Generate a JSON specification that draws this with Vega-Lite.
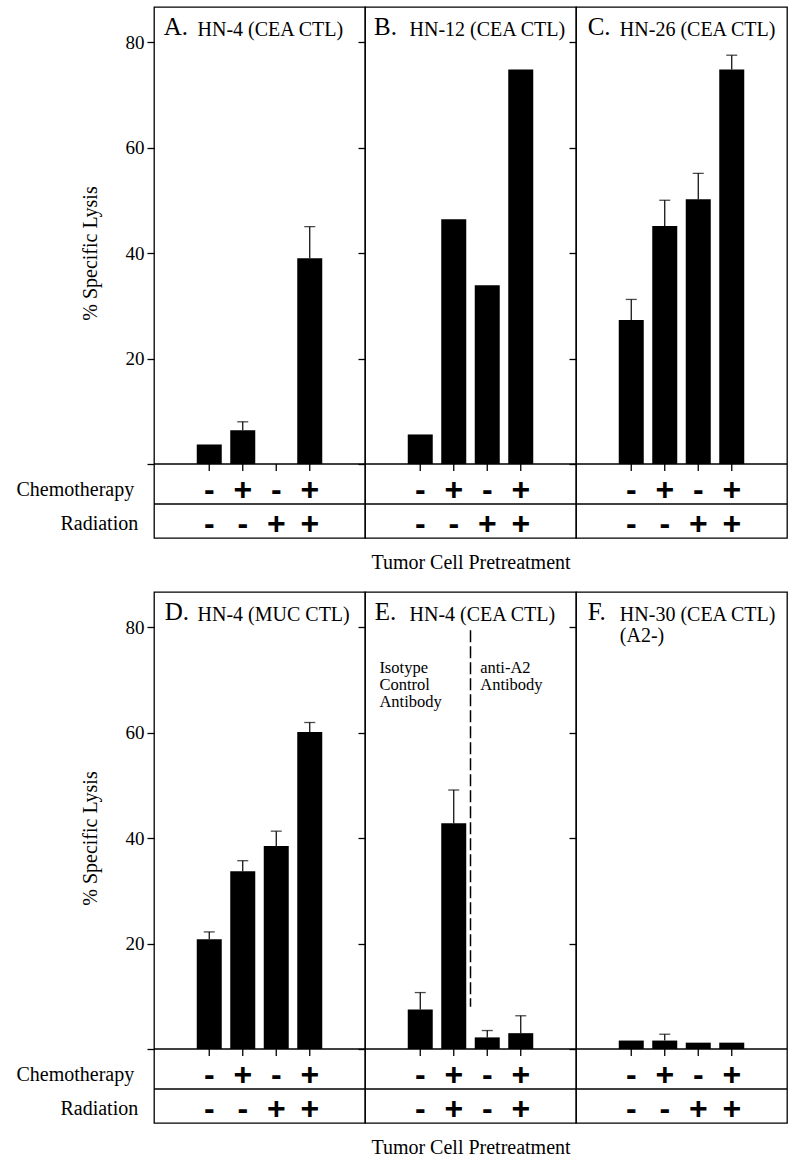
{
  "$schema": "https://vega.github.io/schema/vega-lite/v6.json",
  "padding": {"left": 15, "top": 6, "right": 5, "bottom": 5},
  "spacing": 18,
  "config": {
    "font": "Liberation Serif",
    "view": {"stroke": "black", "strokeWidth": 1.3},
    "axis": {"tickColor": "black", "tickWidth": 1.3, "labelColor": "black", "titleColor": "black", "labelFont": "Liberation Serif", "titleFont": "Liberation Serif", "grid": false, "domain": false},
    "axisX": {"ticks": false, "labels": false, "titleFontSize": 20, "titleFontWeight": "normal", "titlePadding": 14},
    "axisY": {"tickSize": 7, "labelFontSize": 19, "labelPadding": 3, "titleFontSize": 20, "titleFontWeight": "normal"},
    "text": {"color": "black", "font": "Liberation Serif"}
  },
  "datasets": {
    "a": [
      {"pos": 1, "value": 3.7, "err": null, "chemo": "-", "rad": "-"},
      {"pos": 2, "value": 6.4, "err": 8.0, "chemo": "+", "rad": "-"},
      {"pos": 3, "value": 0, "err": null, "chemo": "-", "rad": "+"},
      {"pos": 4, "value": 39.0, "err": 45.0, "chemo": "+", "rad": "+"}
    ],
    "b": [
      {"pos": 1, "value": 5.6, "err": null, "chemo": "-", "rad": "-"},
      {"pos": 2, "value": 46.4, "err": null, "chemo": "+", "rad": "-"},
      {"pos": 3, "value": 33.9, "err": null, "chemo": "-", "rad": "+"},
      {"pos": 4, "value": 74.8, "err": null, "chemo": "+", "rad": "+"}
    ],
    "c": [
      {"pos": 1, "value": 27.3, "err": 31.2, "chemo": "-", "rad": "-"},
      {"pos": 2, "value": 45.1, "err": 50.0, "chemo": "+", "rad": "-"},
      {"pos": 3, "value": 50.2, "err": 55.1, "chemo": "-", "rad": "+"},
      {"pos": 4, "value": 74.8, "err": 77.5, "chemo": "+", "rad": "+"}
    ],
    "d": [
      {"pos": 1, "value": 20.8, "err": 22.2, "chemo": "-", "rad": "-"},
      {"pos": 2, "value": 33.7, "err": 35.7, "chemo": "+", "rad": "-"},
      {"pos": 3, "value": 38.5, "err": 41.3, "chemo": "-", "rad": "+"},
      {"pos": 4, "value": 60.1, "err": 61.9, "chemo": "+", "rad": "+"}
    ],
    "e": [
      {"pos": 1, "value": 7.5, "err": 10.7, "chemo": "-", "rad": "-"},
      {"pos": 2, "value": 42.8, "err": 49.1, "chemo": "+", "rad": "+"},
      {"pos": 3, "value": 2.2, "err": 3.5, "chemo": "-", "rad": "-"},
      {"pos": 4, "value": 3.0, "err": 6.3, "chemo": "+", "rad": "+"}
    ],
    "f": [
      {"pos": 1, "value": 1.6, "err": null, "chemo": "-", "rad": "-"},
      {"pos": 2, "value": 1.6, "err": 2.8, "chemo": "+", "rad": "-"},
      {"pos": 3, "value": 1.2, "err": null, "chemo": "-", "rad": "+"},
      {"pos": 4, "value": 1.2, "err": null, "chemo": "+", "rad": "+"}
    ],
    "titles": [
      {"panel": "A", "letter": "A.", "name": "HN-4 (CEA CTL)"},
      {"panel": "B", "letter": "B.", "name": "HN-12 (CEA CTL)"},
      {"panel": "C", "letter": "C.", "name": "HN-26 (CEA CTL)"},
      {"panel": "D", "letter": "D.", "name": "HN-4 (MUC CTL)"},
      {"panel": "E", "letter": "E.", "name": "HN-4 (CEA CTL)"},
      {"panel": "F", "letter": "F.", "name": "HN-30 (CEA CTL)\n(A2-)"}
    ],
    "rows": [
      {"row": "Chemotherapy"},
      {"row": "Radiation"}
    ],
    "notes": [
      {"side": "left", "note": "Isotype\nControl\nAntibody"},
      {"side": "right", "note": "anti-A2\nAntibody"}
    ]
  },
  "vconcat": [
    {
      "hconcat": [
        {
          "width": 211, "height": 531,
          "layer": [
            {"data": {"name": "a"}, "mark": {"type": "bar", "size": 25, "color": "black"},
             "encoding": {
               "x": {"field": "pos", "type": "quantitative", "scale": {"domain": [-0.5, 5.5], "nice": false, "zero": false}, "axis": {"title": null}},
               "y": {"field": "value", "type": "quantitative", "scale": {"domain": [-14.03, 86.64], "nice": false, "zero": false},
                     "axis": {"values": [0, 20, 40, 60, 80], "title": "% Specific Lysis", "titleX": -64, "titleY": 246, "titleBaseline": "middle", "labelExpr": "datum.value === 0 ? '' : datum.label"}},
               "y2": {"datum": 0}}},
            {"data": {"name": "a"}, "transform": [{"filter": "isValid(datum.err)"}], "mark": {"type": "rule", "color": "black", "strokeWidth": 1.2},
             "encoding": {"x": {"field": "pos", "type": "quantitative"}, "y": {"field": "value", "type": "quantitative"}, "y2": {"field": "err"}}},
            {"data": {"name": "a"}, "transform": [{"filter": "isValid(datum.err)"}], "mark": {"type": "tick", "orient": "horizontal", "color": "black", "size": 11, "thickness": 1.3},
             "encoding": {"x": {"field": "pos", "type": "quantitative"}, "y": {"field": "err", "type": "quantitative"}}},
            {"data": {"name": "a"}, "mark": {"type": "rule", "color": "black", "strokeWidth": 1.3},
             "encoding": {"x": {"field": "pos", "type": "quantitative"}, "y": {"datum": 0}, "y2": {"datum": -1.35}}},
            {"data": {"name": "a"}, "mark": {"type": "text", "font": "Liberation Sans", "fontWeight": "bold", "fontSize": 32, "baseline": "alphabetic", "color": "black"},
             "encoding": {"x": {"field": "pos", "type": "quantitative"}, "y": {"datum": -6.9}, "text": {"field": "chemo"}}},
            {"data": {"name": "a"}, "mark": {"type": "text", "font": "Liberation Sans", "fontWeight": "bold", "fontSize": 32, "baseline": "alphabetic", "color": "black"},
             "encoding": {"x": {"field": "pos", "type": "quantitative"}, "y": {"datum": -13.35}, "text": {"field": "rad"}}},
            {"data": {"values": [{}]}, "mark": {"type": "rule", "color": "black", "strokeWidth": 1.3}, "encoding": {"y": {"datum": 0}}},
            {"data": {"values": [{}]}, "mark": {"type": "rule", "color": "black", "strokeWidth": 1.3}, "encoding": {"y": {"datum": -7.58}}},
            {"data": {"name": "titles"}, "transform": [{"filter": "datum.panel === 'A'"}], "mark": {"type": "text", "font": "Liberation Serif", "align": "left", "baseline": "alphabetic", "fontSize": 25},
             "encoding": {"x": {"datum": -0.36}, "y": {"datum": 81.4}, "text": {"field": "letter"}}},
            {"data": {"name": "titles"}, "transform": [{"filter": "datum.panel === 'A'"}], "mark": {"type": "text", "font": "Liberation Serif", "align": "left", "baseline": "alphabetic", "fontSize": 20, "lineBreak": "\n", "lineHeight": 20.5},
             "encoding": {"x": {"datum": 0.65}, "y": {"datum": 81.1}, "text": {"field": "name"}}},
            {"data": {"name": "rows"}, "transform": [{"filter": "datum.row === 'Chemotherapy'"}], "mark": {"type": "text", "font": "Liberation Serif", "align": "right", "baseline": "alphabetic", "fontSize": 20},
             "encoding": {"x": {"datum": -1.24}, "y": {"datum": -6.1}, "text": {"field": "row"}}},
            {"data": {"name": "rows"}, "transform": [{"filter": "datum.row === 'Radiation'"}], "mark": {"type": "text", "font": "Liberation Serif", "align": "right", "baseline": "alphabetic", "fontSize": 20},
             "encoding": {"x": {"datum": -1.12}, "y": {"datum": -12.6}, "text": {"field": "row"}}}
          ]
        },
        {
          "width": 211, "height": 531,
          "layer": [
            {"data": {"name": "b"}, "mark": {"type": "bar", "size": 25, "color": "black"},
             "encoding": {
               "x": {"field": "pos", "type": "quantitative", "scale": {"domain": [-0.5, 5.5], "nice": false, "zero": false}, "axis": {"title": "Tumor Cell Pretreatment"}},
               "y": {"field": "value", "type": "quantitative", "scale": {"domain": [-14.03, 86.64], "nice": false, "zero": false},
                     "axis": {"values": [0, 20, 40, 60, 80], "title": null, "labels": false}},
               "y2": {"datum": 0}}},
            {"data": {"name": "b"}, "mark": {"type": "rule", "color": "black", "strokeWidth": 1.3},
             "encoding": {"x": {"field": "pos", "type": "quantitative"}, "y": {"datum": 0}, "y2": {"datum": -1.35}}},
            {"data": {"name": "b"}, "mark": {"type": "text", "font": "Liberation Sans", "fontWeight": "bold", "fontSize": 32, "baseline": "alphabetic", "color": "black"},
             "encoding": {"x": {"field": "pos", "type": "quantitative"}, "y": {"datum": -6.9}, "text": {"field": "chemo"}}},
            {"data": {"name": "b"}, "mark": {"type": "text", "font": "Liberation Sans", "fontWeight": "bold", "fontSize": 32, "baseline": "alphabetic", "color": "black"},
             "encoding": {"x": {"field": "pos", "type": "quantitative"}, "y": {"datum": -13.35}, "text": {"field": "rad"}}},
            {"data": {"values": [{}]}, "mark": {"type": "rule", "color": "black", "strokeWidth": 1.3}, "encoding": {"y": {"datum": 0}}},
            {"data": {"values": [{}]}, "mark": {"type": "rule", "color": "black", "strokeWidth": 1.3}, "encoding": {"y": {"datum": -7.58}}},
            {"data": {"name": "titles"}, "transform": [{"filter": "datum.panel === 'B'"}], "mark": {"type": "text", "font": "Liberation Serif", "align": "left", "baseline": "alphabetic", "fontSize": 25},
             "encoding": {"x": {"datum": -0.38}, "y": {"datum": 81.4}, "text": {"field": "letter"}}},
            {"data": {"name": "titles"}, "transform": [{"filter": "datum.panel === 'B'"}], "mark": {"type": "text", "font": "Liberation Serif", "align": "left", "baseline": "alphabetic", "fontSize": 20, "lineBreak": "\n", "lineHeight": 20.5},
             "encoding": {"x": {"datum": 0.68}, "y": {"datum": 81.1}, "text": {"field": "name"}}}
          ]
        },
        {
          "width": 211, "height": 531,
          "layer": [
            {"data": {"name": "c"}, "mark": {"type": "bar", "size": 25, "color": "black"},
             "encoding": {
               "x": {"field": "pos", "type": "quantitative", "scale": {"domain": [-0.5, 5.5], "nice": false, "zero": false}, "axis": {"title": null}},
               "y": {"field": "value", "type": "quantitative", "scale": {"domain": [-14.03, 86.64], "nice": false, "zero": false},
                     "axis": {"values": [0, 20, 40, 60, 80], "title": null, "labels": false}},
               "y2": {"datum": 0}}},
            {"data": {"name": "c"}, "transform": [{"filter": "isValid(datum.err)"}], "mark": {"type": "rule", "color": "black", "strokeWidth": 1.2},
             "encoding": {"x": {"field": "pos", "type": "quantitative"}, "y": {"field": "value", "type": "quantitative"}, "y2": {"field": "err"}}},
            {"data": {"name": "c"}, "transform": [{"filter": "isValid(datum.err)"}], "mark": {"type": "tick", "orient": "horizontal", "color": "black", "size": 11, "thickness": 1.3},
             "encoding": {"x": {"field": "pos", "type": "quantitative"}, "y": {"field": "err", "type": "quantitative"}}},
            {"data": {"name": "c"}, "mark": {"type": "rule", "color": "black", "strokeWidth": 1.3},
             "encoding": {"x": {"field": "pos", "type": "quantitative"}, "y": {"datum": 0}, "y2": {"datum": -1.35}}},
            {"data": {"name": "c"}, "mark": {"type": "text", "font": "Liberation Sans", "fontWeight": "bold", "fontSize": 32, "baseline": "alphabetic", "color": "black"},
             "encoding": {"x": {"field": "pos", "type": "quantitative"}, "y": {"datum": -6.9}, "text": {"field": "chemo"}}},
            {"data": {"name": "c"}, "mark": {"type": "text", "font": "Liberation Sans", "fontWeight": "bold", "fontSize": 32, "baseline": "alphabetic", "color": "black"},
             "encoding": {"x": {"field": "pos", "type": "quantitative"}, "y": {"datum": -13.35}, "text": {"field": "rad"}}},
            {"data": {"values": [{}]}, "mark": {"type": "rule", "color": "black", "strokeWidth": 1.3}, "encoding": {"y": {"datum": 0}}},
            {"data": {"values": [{}]}, "mark": {"type": "rule", "color": "black", "strokeWidth": 1.3}, "encoding": {"y": {"datum": -7.58}}},
            {"data": {"name": "titles"}, "transform": [{"filter": "datum.panel === 'C'"}], "mark": {"type": "text", "font": "Liberation Serif", "align": "left", "baseline": "alphabetic", "fontSize": 25},
             "encoding": {"x": {"datum": -0.3}, "y": {"datum": 81.4}, "text": {"field": "letter"}}},
            {"data": {"name": "titles"}, "transform": [{"filter": "datum.panel === 'C'"}], "mark": {"type": "text", "font": "Liberation Serif", "align": "left", "baseline": "alphabetic", "fontSize": 20, "lineBreak": "\n", "lineHeight": 20.5},
             "encoding": {"x": {"datum": 0.66}, "y": {"datum": 81.1}, "text": {"field": "name"}}}
          ]
        }
      ],
      "spacing": 0,
      "bounds": "flush"
    },
    {
      "hconcat": [
        {
          "width": 211, "height": 531,
          "layer": [
            {"data": {"name": "d"}, "mark": {"type": "bar", "size": 25, "color": "black"},
             "encoding": {
               "x": {"field": "pos", "type": "quantitative", "scale": {"domain": [-0.5, 5.5], "nice": false, "zero": false}, "axis": {"title": null}},
               "y": {"field": "value", "type": "quantitative", "scale": {"domain": [-14.03, 86.64], "nice": false, "zero": false},
                     "axis": {"values": [0, 20, 40, 60, 80], "title": "% Specific Lysis", "titleX": -64, "titleY": 246, "titleBaseline": "middle", "labelExpr": "datum.value === 0 ? '' : datum.label"}},
               "y2": {"datum": 0}}},
            {"data": {"name": "d"}, "transform": [{"filter": "isValid(datum.err)"}], "mark": {"type": "rule", "color": "black", "strokeWidth": 1.2},
             "encoding": {"x": {"field": "pos", "type": "quantitative"}, "y": {"field": "value", "type": "quantitative"}, "y2": {"field": "err"}}},
            {"data": {"name": "d"}, "transform": [{"filter": "isValid(datum.err)"}], "mark": {"type": "tick", "orient": "horizontal", "color": "black", "size": 11, "thickness": 1.3},
             "encoding": {"x": {"field": "pos", "type": "quantitative"}, "y": {"field": "err", "type": "quantitative"}}},
            {"data": {"name": "d"}, "mark": {"type": "rule", "color": "black", "strokeWidth": 1.3},
             "encoding": {"x": {"field": "pos", "type": "quantitative"}, "y": {"datum": 0}, "y2": {"datum": -1.35}}},
            {"data": {"name": "d"}, "mark": {"type": "text", "font": "Liberation Sans", "fontWeight": "bold", "fontSize": 32, "baseline": "alphabetic", "color": "black"},
             "encoding": {"x": {"field": "pos", "type": "quantitative"}, "y": {"datum": -6.9}, "text": {"field": "chemo"}}},
            {"data": {"name": "d"}, "mark": {"type": "text", "font": "Liberation Sans", "fontWeight": "bold", "fontSize": 32, "baseline": "alphabetic", "color": "black"},
             "encoding": {"x": {"field": "pos", "type": "quantitative"}, "y": {"datum": -13.35}, "text": {"field": "rad"}}},
            {"data": {"values": [{}]}, "mark": {"type": "rule", "color": "black", "strokeWidth": 1.3}, "encoding": {"y": {"datum": 0}}},
            {"data": {"values": [{}]}, "mark": {"type": "rule", "color": "black", "strokeWidth": 1.3}, "encoding": {"y": {"datum": -7.58}}},
            {"data": {"name": "titles"}, "transform": [{"filter": "datum.panel === 'D'"}], "mark": {"type": "text", "font": "Liberation Serif", "align": "left", "baseline": "alphabetic", "fontSize": 25},
             "encoding": {"x": {"datum": -0.33}, "y": {"datum": 81.4}, "text": {"field": "letter"}}},
            {"data": {"name": "titles"}, "transform": [{"filter": "datum.panel === 'D'"}], "mark": {"type": "text", "font": "Liberation Serif", "align": "left", "baseline": "alphabetic", "fontSize": 20, "lineBreak": "\n", "lineHeight": 20.5},
             "encoding": {"x": {"datum": 0.65}, "y": {"datum": 81.1}, "text": {"field": "name"}}},
            {"data": {"name": "rows"}, "transform": [{"filter": "datum.row === 'Chemotherapy'"}], "mark": {"type": "text", "font": "Liberation Serif", "align": "right", "baseline": "alphabetic", "fontSize": 20},
             "encoding": {"x": {"datum": -1.24}, "y": {"datum": -6.0}, "text": {"field": "row"}}},
            {"data": {"name": "rows"}, "transform": [{"filter": "datum.row === 'Radiation'"}], "mark": {"type": "text", "font": "Liberation Serif", "align": "right", "baseline": "alphabetic", "fontSize": 20},
             "encoding": {"x": {"datum": -1.12}, "y": {"datum": -12.5}, "text": {"field": "row"}}}
          ]
        },
        {
          "width": 211, "height": 531,
          "layer": [
            {"data": {"name": "e"}, "mark": {"type": "bar", "size": 25, "color": "black"},
             "encoding": {
               "x": {"field": "pos", "type": "quantitative", "scale": {"domain": [-0.5, 5.5], "nice": false, "zero": false}, "axis": {"title": "Tumor Cell Pretreatment"}},
               "y": {"field": "value", "type": "quantitative", "scale": {"domain": [-14.03, 86.64], "nice": false, "zero": false},
                     "axis": {"values": [0, 20, 40, 60, 80], "title": null, "labels": false}},
               "y2": {"datum": 0}}},
            {"data": {"name": "e"}, "transform": [{"filter": "isValid(datum.err)"}], "mark": {"type": "rule", "color": "black", "strokeWidth": 1.2},
             "encoding": {"x": {"field": "pos", "type": "quantitative"}, "y": {"field": "value", "type": "quantitative"}, "y2": {"field": "err"}}},
            {"data": {"name": "e"}, "transform": [{"filter": "isValid(datum.err)"}], "mark": {"type": "tick", "orient": "horizontal", "color": "black", "size": 11, "thickness": 1.3},
             "encoding": {"x": {"field": "pos", "type": "quantitative"}, "y": {"field": "err", "type": "quantitative"}}},
            {"data": {"name": "e"}, "mark": {"type": "rule", "color": "black", "strokeWidth": 1.3},
             "encoding": {"x": {"field": "pos", "type": "quantitative"}, "y": {"datum": 0}, "y2": {"datum": -1.35}}},
            {"data": {"name": "e"}, "mark": {"type": "text", "font": "Liberation Sans", "fontWeight": "bold", "fontSize": 32, "baseline": "alphabetic", "color": "black"},
             "encoding": {"x": {"field": "pos", "type": "quantitative"}, "y": {"datum": -6.9}, "text": {"field": "chemo"}}},
            {"data": {"name": "e"}, "mark": {"type": "text", "font": "Liberation Sans", "fontWeight": "bold", "fontSize": 32, "baseline": "alphabetic", "color": "black"},
             "encoding": {"x": {"field": "pos", "type": "quantitative"}, "y": {"datum": -13.35}, "text": {"field": "rad"}}},
            {"data": {"values": [{}]}, "mark": {"type": "rule", "color": "black", "strokeWidth": 1.3}, "encoding": {"y": {"datum": 0}}},
            {"data": {"values": [{}]}, "mark": {"type": "rule", "color": "black", "strokeWidth": 1.3}, "encoding": {"y": {"datum": -7.58}}},
            {"data": {"values": [{}]}, "mark": {"type": "rule", "color": "black", "strokeWidth": 1.5, "strokeDash": [12, 4]},
             "encoding": {"x": {"datum": 2.5}, "y": {"datum": 79.4}, "y2": {"datum": 8.0}}},
            {"data": {"name": "notes"}, "transform": [{"filter": "datum.side === 'left'"}], "mark": {"type": "text", "font": "Liberation Serif", "align": "left", "baseline": "alphabetic", "fontSize": 16.5, "lineBreak": "\n", "lineHeight": 17},
             "encoding": {"x": {"datum": -0.22}, "y": {"datum": 71.2}, "text": {"field": "note"}}},
            {"data": {"name": "notes"}, "transform": [{"filter": "datum.side === 'right'"}], "mark": {"type": "text", "font": "Liberation Serif", "align": "left", "baseline": "alphabetic", "fontSize": 16.5, "lineBreak": "\n", "lineHeight": 17},
             "encoding": {"x": {"datum": 2.79}, "y": {"datum": 71.2}, "text": {"field": "note"}}},
            {"data": {"name": "titles"}, "transform": [{"filter": "datum.panel === 'E'"}], "mark": {"type": "text", "font": "Liberation Serif", "align": "left", "baseline": "alphabetic", "fontSize": 25},
             "encoding": {"x": {"datum": -0.36}, "y": {"datum": 81.4}, "text": {"field": "letter"}}},
            {"data": {"name": "titles"}, "transform": [{"filter": "datum.panel === 'E'"}], "mark": {"type": "text", "font": "Liberation Serif", "align": "left", "baseline": "alphabetic", "fontSize": 20, "lineBreak": "\n", "lineHeight": 20.5},
             "encoding": {"x": {"datum": 0.68}, "y": {"datum": 81.1}, "text": {"field": "name"}}}
          ]
        },
        {
          "width": 211, "height": 531,
          "layer": [
            {"data": {"name": "f"}, "mark": {"type": "bar", "size": 25, "color": "black"},
             "encoding": {
               "x": {"field": "pos", "type": "quantitative", "scale": {"domain": [-0.5, 5.5], "nice": false, "zero": false}, "axis": {"title": null}},
               "y": {"field": "value", "type": "quantitative", "scale": {"domain": [-14.03, 86.64], "nice": false, "zero": false},
                     "axis": {"values": [0, 20, 40, 60, 80], "title": null, "labels": false}},
               "y2": {"datum": 0}}},
            {"data": {"name": "f"}, "transform": [{"filter": "isValid(datum.err)"}], "mark": {"type": "rule", "color": "black", "strokeWidth": 1.2},
             "encoding": {"x": {"field": "pos", "type": "quantitative"}, "y": {"field": "value", "type": "quantitative"}, "y2": {"field": "err"}}},
            {"data": {"name": "f"}, "transform": [{"filter": "isValid(datum.err)"}], "mark": {"type": "tick", "orient": "horizontal", "color": "black", "size": 11, "thickness": 1.3},
             "encoding": {"x": {"field": "pos", "type": "quantitative"}, "y": {"field": "err", "type": "quantitative"}}},
            {"data": {"name": "f"}, "mark": {"type": "rule", "color": "black", "strokeWidth": 1.3},
             "encoding": {"x": {"field": "pos", "type": "quantitative"}, "y": {"datum": 0}, "y2": {"datum": -1.35}}},
            {"data": {"name": "f"}, "mark": {"type": "text", "font": "Liberation Sans", "fontWeight": "bold", "fontSize": 32, "baseline": "alphabetic", "color": "black"},
             "encoding": {"x": {"field": "pos", "type": "quantitative"}, "y": {"datum": -6.9}, "text": {"field": "chemo"}}},
            {"data": {"name": "f"}, "mark": {"type": "text", "font": "Liberation Sans", "fontWeight": "bold", "fontSize": 32, "baseline": "alphabetic", "color": "black"},
             "encoding": {"x": {"field": "pos", "type": "quantitative"}, "y": {"datum": -13.35}, "text": {"field": "rad"}}},
            {"data": {"values": [{}]}, "mark": {"type": "rule", "color": "black", "strokeWidth": 1.3}, "encoding": {"y": {"datum": 0}}},
            {"data": {"values": [{}]}, "mark": {"type": "rule", "color": "black", "strokeWidth": 1.3}, "encoding": {"y": {"datum": -7.58}}},
            {"data": {"name": "titles"}, "transform": [{"filter": "datum.panel === 'F'"}], "mark": {"type": "text", "font": "Liberation Serif", "align": "left", "baseline": "alphabetic", "fontSize": 25},
             "encoding": {"x": {"datum": -0.3}, "y": {"datum": 81.4}, "text": {"field": "letter"}}},
            {"data": {"name": "titles"}, "transform": [{"filter": "datum.panel === 'F'"}], "mark": {"type": "text", "font": "Liberation Serif", "align": "left", "baseline": "alphabetic", "fontSize": 20, "lineBreak": "\n", "lineHeight": 20.5},
             "encoding": {"x": {"datum": 0.66}, "y": {"datum": 81.1}, "text": {"field": "name"}}}
          ]
        }
      ],
      "spacing": 0,
      "bounds": "flush"
    }
  ]
}
